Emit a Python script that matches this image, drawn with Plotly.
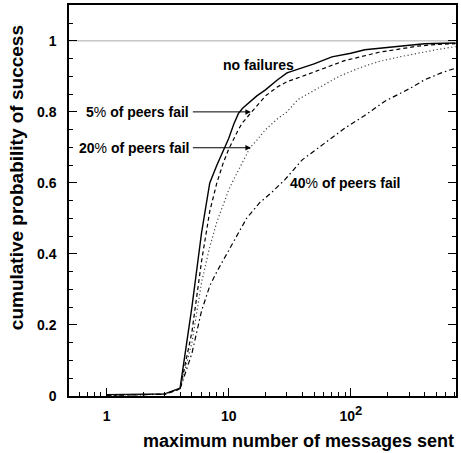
import math
import plotly.graph_objects as go

# ---- data ----
msgs_none = [1, 2, 3, 4, 5, 6, 7, 8, 9, 10, 11, 12, 13, 15, 17, 20, 25, 30, 40, 50, 70, 100, 130, 200, 280, 400, 720]
prob_none = [0.004, 0.004, 0.006, 0.022, 0.25, 0.46, 0.60, 0.65, 0.69, 0.725, 0.765, 0.795, 0.81, 0.83, 0.845, 0.862,
             0.89, 0.91, 0.925, 0.935, 0.955, 0.965, 0.975, 0.982, 0.988, 0.992, 0.994]

msgs_5 = [1, 2, 3, 4, 5, 6, 7, 8, 9, 10, 11, 12, 13, 15, 17, 20, 25, 30, 40, 50, 70, 90, 120, 170, 230, 350, 500, 720]
prob_5 = [0.002, 0.003, 0.005, 0.02, 0.18, 0.38, 0.52, 0.60, 0.655, 0.695, 0.725, 0.75, 0.77, 0.795, 0.815, 0.845,
          0.87, 0.885, 0.90, 0.912, 0.93, 0.945, 0.955, 0.968, 0.975, 0.985, 0.99, 0.992]

msgs_20 = [1, 2, 3, 4, 5, 6, 7, 8, 9, 10, 11, 12, 13, 15, 17, 20, 25, 30, 37, 50, 80, 120, 170, 250, 350, 500, 720]
prob_20 = [0.002, 0.003, 0.005, 0.02, 0.15, 0.32, 0.42, 0.49, 0.54, 0.58, 0.61, 0.635, 0.66, 0.70, 0.72, 0.75,
           0.78, 0.80, 0.835, 0.86, 0.90, 0.925, 0.942, 0.955, 0.965, 0.975, 0.984]

msgs_40 = [1, 2, 3, 4, 5, 6, 7, 8, 10, 14, 18, 22, 29, 40, 60, 90, 130, 190, 300, 400, 550, 720]
prob_40 = [0.002, 0.003, 0.005, 0.02, 0.12, 0.24, 0.31, 0.35, 0.41, 0.50, 0.545, 0.57, 0.61, 0.665, 0.71, 0.755,
           0.79, 0.83, 0.865, 0.89, 0.91, 0.923]

x_tick_vals = [1, 10, 100]
x_tick_text = ["1", "10", "10<sup><span style='font-size:13px'>2</span></sup>"]
x_minor_vals = [0.6, 0.7, 0.8, 0.9] + list(range(2, 10)) + list(range(20, 100, 10)) + list(range(200, 800, 100))

FONT = "Liberation Sans, Arial, Helvetica, sans-serif"

fig = go.Figure()
fig.add_trace(go.Scatter(x=msgs_none, y=prob_none, mode="lines",
                         line=dict(color="black", width=1.4, dash="solid"), name="no failures"))
fig.add_trace(go.Scatter(x=msgs_5, y=prob_5, mode="lines",
                         line=dict(color="black", width=1.2, dash="4px,3px"), name="5%"))
fig.add_trace(go.Scatter(x=msgs_20, y=prob_20, mode="lines",
                         line=dict(color="#444444", width=1.2, dash="1.2px,2.5px"), name="20%"))
fig.add_trace(go.Scatter(x=msgs_40, y=prob_40, mode="lines",
                         line=dict(color="black", width=1.2, dash="5px,3px,1.5px,3px"), name="40%"))

fig.add_shape(type="line", xref="paper", x0=0, x1=1, yref="y", y0=1, y1=1,
              line=dict(color="#aaaaaa", width=1), layer="below")

L = math.log10
ann_font = dict(family=FONT, size=14, color="black", weight="bold")
pct = "<span style='font-weight:normal'>%</span>"

fig.add_annotation(x=L(17.5), y=0.932, xref="x", yref="y", text="no failures", showarrow=False,
                   font=ann_font, xanchor="center", yanchor="middle")
fig.add_annotation(x=L(4.92), y=0.8, xref="x", yref="y", text="5" + pct + " of peers fail", showarrow=False,
                   font=ann_font, xanchor="right", yanchor="middle")
fig.add_annotation(x=L(4.98), y=0.699, xref="x", yref="y", text="20" + pct + " of peers fail", showarrow=False,
                   font=ann_font, xanchor="right", yanchor="middle")
fig.add_annotation(x=L(30.7), y=0.599, xref="x", yref="y", text="40" + pct + " of peers fail", showarrow=False,
                   font=ann_font, xanchor="left", yanchor="middle")
# arrows
for yy in (0.8, 0.699):
    fig.add_annotation(x=L(15.2), y=yy, xref="x", yref="y", ax=L(4.95), ay=yy, axref="x", ayref="y",
                       text="", showarrow=True, arrowhead=2, arrowsize=1.1, arrowwidth=1, arrowcolor="black",
                       standoff=0, startstandoff=0)

# axis titles
fig.add_annotation(x=1.0, y=-0.115, xref="paper", yref="paper", text="maximum number of messages sent",
                   showarrow=False, font=dict(family=FONT, size=18, color="black", weight="bold"),
                   xanchor="right", yanchor="middle")
fig.add_annotation(x=-0.136, y=0.558, xref="paper", yref="paper", text="cumulative probability of success",
                   showarrow=False, textangle=-90, font=dict(family=FONT, size=19, color="black", weight="bold"),
                   xanchor="center", yanchor="middle")

fig.update_layout(
    width=461, height=453,
    margin=dict(l=69, r=3, t=5, b=57),
    paper_bgcolor="white", plot_bgcolor="white",
    showlegend=False,
    font=dict(family=FONT, size=14, color="black", weight="bold"),
    xaxis=dict(type="log", range=[L(0.493), L(726)],
               tickmode="array", tickvals=x_tick_vals, ticktext=x_tick_text,
               ticks="inside", ticklen=8, tickwidth=1, tickcolor="black",
               minor=dict(tickmode="array", tickvals=x_minor_vals, ticks="inside", ticklen=4,
                          tickwidth=1, tickcolor="black", showgrid=False),
               showline=True, linecolor="black", linewidth=1.5, mirror=True,
               showgrid=False, zeroline=False,
               tickfont=dict(family=FONT, size=14, color="black", weight="bold"), ticklabelstandoff=6),
    yaxis=dict(range=[0, 1.101], dtick=0.2, tick0=0,
               ticks="inside", ticklen=8, tickwidth=1, tickcolor="black",
               minor=dict(dtick=0.05, ticks="inside", ticklen=4, tickwidth=1, tickcolor="black", showgrid=False),
               showline=True, linecolor="black", linewidth=1.5, mirror="ticks",
               showgrid=False, zeroline=False,
               tickfont=dict(family=FONT, size=14, color="black", weight="bold"), ticklabelstandoff=8),
)

fig.write_html("out.html")
